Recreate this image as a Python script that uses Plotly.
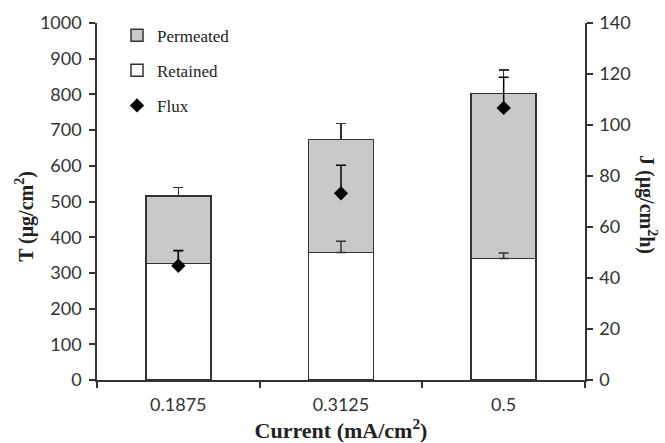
import plotly.graph_objects as go

categories = ["0.1875", "0.3125", "0.5"]
retained = [326, 357, 340]
retained_err = [36, 32, 16]
permeated = [189, 317, 462]
permeated_err = [24, 44, 67]
flux = [44.8, 73.2, 106.7]
flux_err = [6, 11, 12]

edge = "#333333"
serif = "Liberation Serif"
sans = "Lato"

fig = go.Figure()
fig.add_trace(go.Bar(
    x=categories, y=retained, name="Retained", legendgroup="r", legendrank=2,
    marker=dict(color="white", line=dict(color=edge, width=1.5)),
    width=0.4,
))
fig.add_trace(go.Bar(
    x=categories, y=permeated, name="Permeated", legendgroup="p", legendrank=1,
    marker=dict(color="#c8c9cb", line=dict(color=edge, width=1.5)),
    error_y=dict(type="data", array=permeated_err, arrayminus=[0]*3, symmetric=False,
                 color=edge, thickness=1.5, width=5),
    width=0.4,
))
# error bars of the retained layer, drawn above the stacked bars
fig.add_trace(go.Scatter(
    x=categories, y=retained, mode="markers", showlegend=False, hoverinfo="skip",
    marker=dict(size=1, opacity=0),
    error_y=dict(type="data", array=retained_err, arrayminus=[0]*3, symmetric=False,
                 color=edge, thickness=1.5, width=5),
))
fig.add_trace(go.Scatter(
    x=categories, y=flux, name="Flux", legendgroup="f", legendrank=3, mode="markers",
    yaxis="y2",
    marker=dict(symbol="diamond", color="black", size=11),
    error_y=dict(type="data", array=flux_err, arrayminus=[0]*3, symmetric=False,
                 color="black", thickness=1.5, width=5),
))

title_font = dict(family=serif, size=20, color="#222")

fig.update_layout(
    width=665, height=443,
    margin=dict(l=97, r=80, t=23, b=63),
    barmode="stack",
    plot_bgcolor="white", paper_bgcolor="white",
    showlegend=True,
    legend=dict(x=0.041, y=1.015, xanchor="left", yanchor="top",
                font=dict(family=serif, size=17, color="#222"),
                bgcolor="rgba(0,0,0,0)", tracegroupgap=10, itemwidth=30),
    xaxis=dict(type="category", range=[-0.5, 2.5], showline=True, linecolor=edge, linewidth=1.5,
               ticks="outside", tickson="boundaries", ticklen=6, tickcolor=edge, tickwidth=1.5,
               ticklabelstandoff=8, automargin=False,
               tickfont=dict(family=sans, size=18, color="#333"), showgrid=False,
               title=dict(text="<b>Current (mA/cm<sup>2</sup>)</b>",
                          font=dict(family=serif, size=22, color="#222"), standoff=6)),
    yaxis=dict(range=[0, 1000], dtick=100, showline=True, linecolor=edge, linewidth=1.5,
               ticks="outside", ticklen=6, tickcolor=edge, tickwidth=1.5, showgrid=False,
               zeroline=False, ticklabelstandoff=4, automargin=False,
               tickfont=dict(family=sans, size=18, color="#333")),
    yaxis2=dict(range=[0, 140], dtick=20, overlaying="y", side="right", showline=True,
                linecolor=edge, linewidth=1.5, ticks="outside", ticklen=6, tickcolor=edge,
                tickwidth=1.5, showgrid=False, zeroline=False, ticklabelstandoff=3,
                automargin=False,
                tickfont=dict(family=sans, size=18, color="#333")),
    annotations=[
        dict(text="<b>T (μg/cm<sup>2</sup>)</b>", xref="paper", yref="paper",
             x=-0.1475, xanchor="center", y=0.457, yanchor="middle", showarrow=False,
             textangle=-90, font=title_font),
        dict(text="<b>J (μg/cm<sup>2</sup>h)</b>", xref="paper", yref="paper",
             x=1.129, xanchor="center", y=0.49, yanchor="middle", showarrow=False,
             textangle=90, font=title_font),
    ],
)

fig.write_html("out.html")
